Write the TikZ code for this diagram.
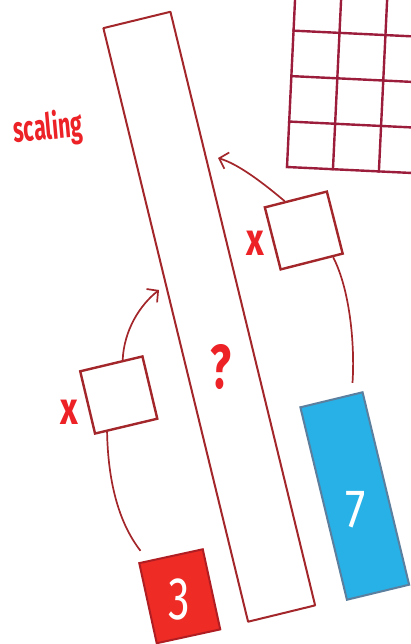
\documentclass[tikz,border=0pt]{standalone}
\usepackage{fontspec}
\usepackage{graphicx}
\setmainfont{Fira Sans}
\usetikzlibrary{arrows.meta,calc}
\definecolor{boxred}{HTML}{A3262A}
\definecolor{gridred}{HTML}{9C1C3B}
\definecolor{inkred}{HTML}{EC2227}
\definecolor{fillred}{HTML}{EE2B24}
\definecolor{edgered}{HTML}{B01E23}
\definecolor{fillblue}{HTML}{27B1E6}
\definecolor{edgeblue}{HTML}{5B7F9E}
\tikzset{
  gridline/.style={draw=gridred, line width=2.4pt, line cap=rect},
  longbox/.style={draw=boxred, line width=2pt, inner sep=0pt, line join=round},
  smallbox/.style={draw=boxred, line width=2.4pt, inner sep=0pt, minimum width=64pt, minimum height=64pt},
  conn/.style={draw=boxred, line width=1.7pt},
  tip/.style={-{Straight Barb[length=8pt,width=17pt,line width=1.7pt]}},
  hand/.style={text=inkred, inner sep=0pt},
  numbox/.style={line width=2pt, inner sep=0pt, text=white}
}
\begin{document}
\begin{tikzpicture}[x=1pt,y=-1pt]
\fill[white] (0,0) rectangle (411,644);
\useasboundingbox (0,0) rectangle (411,644);
% grid
\begin{scope}
\clip (0,0) rectangle (411,644);
\begin{scope}[shift={(287,167)}, rotate=-2.75]
\foreach \u in {0,46,92} \draw[gridline] (\u,0) -- (\u,-230);
\foreach \v in {0,45.5,91,136.5} \draw[gridline] (0,-\v) -- (200,-\v);
\end{scope}
\end{scope}
% long rectangle
\node[longbox, minimum width=69pt, minimum height=611pt, rotate=13.7] (long) at (209.25,316.75) {};
% small boxes
\node[smallbox, rotate=13.4] (b1) at (118.75,395) {};
\node[smallbox, rotate=14.3] (b2) at (303.75,230.5) {};
% number boxes
\node[numbox, draw=edgered, fill=fillred, minimum width=65pt, minimum height=82pt, rotate=12.3] (three) at (179.75,596.25) {};
\node[numbox, draw=edgeblue, fill=fillblue, minimum width=64pt, minimum height=198pt, rotate=13.6] (seven) at (354.75,496) {};
\node[text=white, inner sep=0pt, font=\fontsize{60}{66}\selectfont] (t3) at (179,599) {\scalebox{0.72}[1]{3}};
\node[text=white, inner sep=0pt, font=\fontsize{54}{60}\selectfont] (t7) at (356,510) {\scalebox{0.85}[1]{7}};
% arrow tips
\coordinate (a1tip) at (159,290);
\coordinate (a2tip) at (218,158);
% arrows
\draw[conn, tip] ($(b1.north west)!0.68!(b1.north east)$) .. controls (124,330) and (140,305) .. (a1tip);
\draw[conn, tip] ($(b2.north west)!0.33!(b2.north east)$) .. controls (262,182) and (238,164) .. (a2tip);
% connecting curves
\draw[conn, shorten >=12pt] ($(b1.south west)!0.2!(b1.south east)$) .. controls (108,480) and (118,522) .. ($(three.north west)!0.15!(three.north east)$);
\draw[conn, shorten >=11pt] ($(b2.south west)!0.83!(b2.south east)$) .. controls (350,290) and (355,345) .. ($(seven.north west)!0.82!(seven.north east)$);
% labels
\node[hand, rotate=5, font=\fontsize{36}{42}\selectfont\bfseries] (scl) at (48,129) {\scalebox{0.6}[1]{scaling}};
\node[hand, font=\fontsize{46}{52}\selectfont\bfseries] (x1) at (69,412) {\scalebox{0.75}[1]{x}};
\node[hand, font=\fontsize{46}{52}\selectfont\bfseries] (x2) at (255,243) {\scalebox{0.75}[1]{x}};
\node[hand, font=\fontsize{62}{68}\selectfont\bfseries] (q) at (221,367) {\scalebox{0.7}[1]{?}};
\end{tikzpicture}
\end{document}
